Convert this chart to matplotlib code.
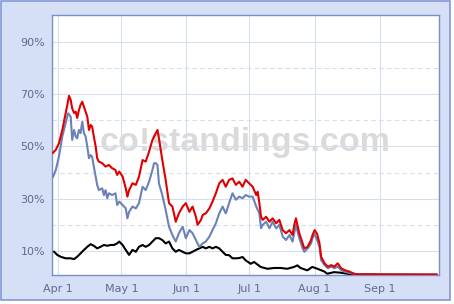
import matplotlib
matplotlib.use("Agg")
import matplotlib.pyplot as plt
import matplotlib.dates as mdates
from matplotlib.patches import Rectangle
from matplotlib.ticker import FuncFormatter
import pandas as pd

# days counted from Apr 1, values in percent
red_days = [-2.5, -1.2, 0.3, 1.9, 3.5, 4.3, 5.1, 5.9, 6.6, 7.5, 8.3, 9.0, 9.8, 10.6, 11.4, 12.2, 13.0, 13.8,
            14.6, 15.4, 16.1, 16.9, 17.8, 18.5, 19.3, 20.9, 22.5, 24.1, 25.6, 27.2, 28.0, 29.0, 30.6, 32.1,
            32.9, 33.7, 35.3, 36.9, 38.4, 40.1, 41.6, 43.2, 44.8, 46.4, 47.2, 47.9, 49.5, 51.1, 52.7, 54.3,
            55.9, 57.4, 59.2, 60.7, 62.4, 63.9, 65.5, 66.3, 67.9, 68.7, 70.2, 71.9, 73.4, 75.0, 76.6, 78.2,
            79.7, 81.3, 82.9, 84.5, 86.1, 87.7, 89.2, 90.8, 92.5, 94.2, 94.9, 95.7, 96.5, 97.3, 98.9, 100.5,
            102.0, 103.7, 105.2, 106.8, 108.4, 110.0, 111.5, 112.3, 113.1, 114.7, 116.3, 117.1, 118.7, 120.3,
            121.0, 122.0, 123.2, 124.3, 125.1, 126.7, 128.3, 129.9, 131.4, 133.0, 134.6, 136.2, 138.6, 140.2,
            141.8, 180.1]
red_vals = [47.6, 48.7, 51.2, 56.3, 62.7, 65.9, 69.4, 67.8, 64.6, 62.8, 63.3, 60.9, 63.9, 65.9, 67.1, 65.2,
            63.3, 61.4, 56.3, 58.2, 57.6, 53.8, 49.9, 45.5, 44.2, 43.6, 42.3, 42.9, 41.7, 41.0, 39.1, 40.4,
            38.5, 34.0, 30.8, 33.3, 35.9, 35.3, 38.4, 44.8, 44.2, 48.0, 52.5, 55.1, 56.3, 53.1, 44.8, 37.2,
            28.3, 27.0, 21.2, 24.4, 27.0, 28.3, 25.0, 27.0, 23.1, 20.0, 21.9, 23.8, 24.4, 26.3, 28.9, 32.1,
            35.9, 37.2, 34.6, 37.2, 37.8, 35.3, 36.5, 34.6, 37.2, 35.9, 34.6, 31.4, 32.7, 28.3, 23.1, 21.9,
            23.1, 21.2, 22.5, 20.6, 21.9, 18.0, 16.8, 18.0, 16.1, 20.0, 22.5, 16.8, 12.9, 11.0, 11.6, 14.2,
            16.1, 18.0, 16.5, 13.0, 7.8, 5.3, 4.0, 4.6, 4.0, 5.3, 3.4, 2.7, 2.1, 1.5, 1.1, 1.0]

blue_days = [-2.5, -1.2, 0.3, 1.9, 3.5, 4.7, 5.9, 6.6, 7.5, 8.3, 9.0, 9.8, 10.6, 11.4, 12.2, 13.0, 13.8, 14.6,
             15.4, 16.1, 16.9, 17.8, 18.5, 19.3, 20.9, 21.7, 22.5, 23.3, 24.1, 25.6, 27.2, 28.0, 29.0, 30.6,
             32.1, 32.9, 33.7, 35.3, 36.9, 38.4, 40.1, 41.6, 43.2, 44.8, 45.6, 46.4, 47.2, 47.9, 49.5, 51.1,
             52.7, 54.3, 55.9, 57.4, 59.2, 60.7, 62.4, 63.9, 65.5, 67.1, 68.7, 70.2, 71.9, 73.4, 75.0, 76.6,
             78.2, 79.7, 81.3, 82.9, 84.5, 86.1, 87.7, 89.2, 90.8, 92.5, 94.2, 95.7, 96.5, 97.3, 98.9, 100.5,
             102.0, 103.7, 105.2, 106.8, 108.4, 110.0, 111.5, 113.1, 114.7, 116.3, 117.1, 118.7, 120.3, 121.0,
             122.0, 123.2, 124.3, 125.1, 126.7, 128.3, 129.9, 131.4, 133.0, 134.6, 136.2, 138.6, 141.8, 180.1]
blue_vals = [38.4, 41.0, 46.1, 53.8, 58.9, 62.7, 61.4, 52.5, 56.3, 53.8, 53.1, 56.3, 55.1, 59.5, 55.1, 53.8,
             49.9, 45.5, 46.7, 46.1, 42.3, 38.4, 35.3, 33.3, 34.0, 31.4, 33.3, 30.2, 32.1, 31.4, 32.1, 27.6,
             28.9, 27.6, 26.3, 22.5, 25.0, 27.0, 26.3, 28.3, 34.6, 33.3, 36.5, 41.0, 43.6, 43.6, 42.9, 35.9,
             31.4, 25.7, 19.3, 16.1, 13.6, 16.8, 19.3, 14.9, 18.0, 16.8, 14.2, 11.6, 12.9, 13.6, 15.5, 18.0,
             20.6, 24.4, 27.0, 24.4, 28.3, 32.1, 29.6, 30.8, 30.2, 31.4, 30.8, 30.8, 27.0, 24.4, 18.7, 20.0,
             21.2, 18.7, 21.2, 18.7, 20.0, 15.5, 14.2, 16.1, 13.6, 20.0, 14.9, 11.0, 9.7, 11.0, 12.9, 14.9,
             16.5, 14.2, 11.6, 6.5, 4.6, 3.4, 4.0, 3.4, 4.0, 2.7, 2.1, 1.6, 1.1, 1.0]

black_days = [-2.0, -0.5, 1.1, 3.5, 5.9, 7.5, 9.0, 10.6, 12.2, 13.8, 15.4, 16.9, 18.5, 20.1, 21.7, 23.3, 24.9,
              26.4, 28.0, 29.0, 30.6, 32.1, 33.7, 35.3, 36.9, 38.4, 40.1, 41.6, 43.2, 44.8, 46.4, 47.9, 49.5,
              51.1, 52.7, 54.3, 55.9, 57.4, 59.2, 60.7, 62.4, 63.9, 65.5, 67.1, 68.7, 70.2, 71.9, 73.4, 75.0,
              76.6, 78.2, 79.7, 81.3, 82.9, 84.5, 86.1, 87.7, 89.2, 91.6, 93.2, 96.3, 99.5, 102.7, 105.8,
              109.0, 112.2, 113.8, 115.3, 118.5, 120.9, 123.3, 126.5, 128.0, 131.2, 134.3, 137.7, 140.7, 150.8]
black_vals = [9.7, 8.5, 7.8, 7.2, 7.2, 6.9, 7.8, 9.1, 10.4, 11.6, 12.6, 12.0, 11.0, 11.6, 12.3, 12.0, 12.3,
              12.3, 12.9, 13.6, 12.3, 10.4, 8.5, 10.4, 9.7, 11.6, 12.3, 11.6, 12.3, 13.6, 14.9, 14.9, 14.2,
              12.9, 13.6, 11.0, 9.7, 10.4, 9.7, 9.1, 9.1, 9.7, 10.4, 11.0, 11.6, 11.0, 11.6, 11.0, 11.6,
              11.0, 9.7, 8.5, 8.4, 7.2, 7.2, 7.3, 7.7, 6.4, 5.1, 5.8, 3.9, 3.2, 3.5, 3.5,
              3.2, 3.9, 4.5, 3.5, 2.6, 3.9, 3.2, 2.2, 1.3, 1.9, 1.7, 1.3, 0.9, 0.9]

y_major = [10, 30, 50, 70, 90]
y_minor = [20, 40, 60, 80]

base = pd.Timestamp("2011-04-01")


def to_dates(days):
    return base + pd.to_timedelta(days, unit="D")


fig = plt.figure(figsize=(4.54, 3.04), dpi=100, facecolor="white")
fig.patches.append(Rectangle((0.5 / 454, 4.5 / 304), 449 / 454, 299 / 304, transform=fig.transFigure,
                             facecolor="#d5e0f7", edgecolor="#8395d6", linewidth=1.2, zorder=-10))

ax = fig.add_axes([52 / 454, (304 - 275.3) / 304, 387 / 454, 260.3 / 304])
ax.set_facecolor("white")

grid_c = "#d6ddec"
for v in y_major:
    ax.axhline(v, color=grid_c, lw=0.8, zorder=1)
for v in y_minor:
    ax.axhline(v, color=grid_c, lw=0.8, ls=(0, (4, 3)), zorder=1)
months = pd.date_range("2011-04-01", "2011-09-01", freq="MS")
for m in months:
    ax.axvline(m, color=grid_c, lw=0.8, zorder=1)

ax.text(0.5, 0.51, "co!standings.com", transform=ax.transAxes, ha="center", va="center",
        fontsize=24.5, fontweight="bold", color="#dadada", family="Liberation Sans", zorder=0.8)

ax.plot(to_dates(black_days), black_vals, color="black", lw=1.5, zorder=3)
ax.plot(to_dates(blue_days), blue_vals, color="#6b82b8", lw=1.5, zorder=4)
ax.plot(to_dates(red_days), red_vals, color="#e00000", lw=1.5, zorder=5)

ax.set_xlim(base - pd.Timedelta(days=3), base + pd.Timedelta(days=181.2))
ax.set_ylim(0.7, 100.3)

ax.set_yticks(y_major)
ax.set_yticklabels([f"{v}%" for v in y_major])
ax.set_xticks(months)
ax.xaxis.set_major_formatter(FuncFormatter(lambda x, pos: f"{mdates.num2date(x):%b} {mdates.num2date(x).day}"))

ax.tick_params(length=0, labelsize=8, labelcolor="#5d6b8f")
ax.tick_params(axis="y", pad=5)
ax.tick_params(axis="x", pad=6)
for s in ax.spines.values():
    s.set_color("#7b8ec8")
    s.set_linewidth(1.0)

fig.savefig("out.png", dpi=100, facecolor="white")
